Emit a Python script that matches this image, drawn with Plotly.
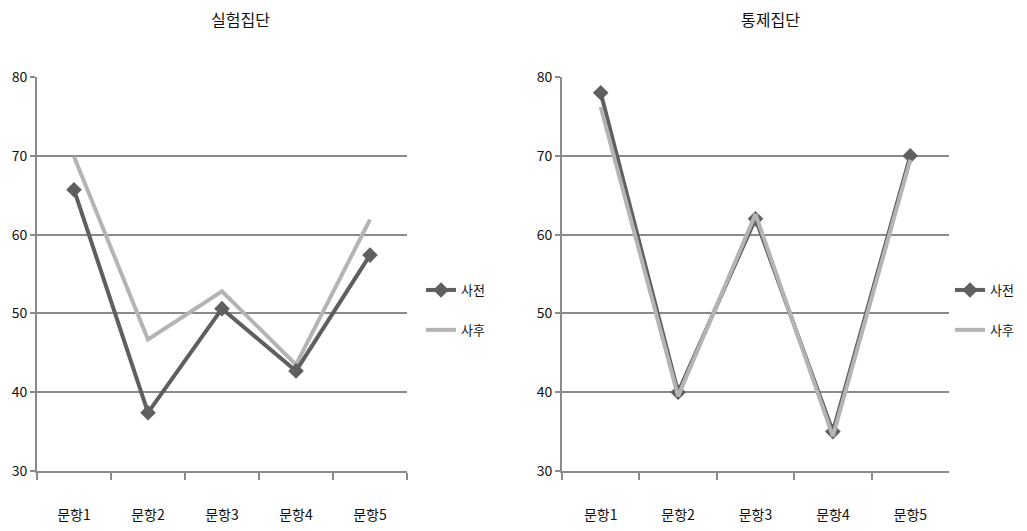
import plotly.graph_objects as go

categories = ["문항1", "문항2", "문항3", "문항4", "문항5"]
exp_pre = [65.7, 37.4, 50.6, 42.7, 57.4]
exp_post = [69.9, 46.7, 52.8, 43.5, 61.9]
ctl_pre = [78.0, 40.0, 62.0, 35.0, 70.0]
ctl_post = [76.2, 39.5, 62.6, 34.4, 69.5]
series_names = ["사전", "사후"]
titles = ["실험집단", "통제집단"]

DARK = "#5f5f5f"
LIGHT = "#b4b4b4"
GRID = "#8a8a8a"
FONT = "Noto Sans CJK KR"

# page has an 8px body margin; figure is sized to the visible window
OFF = 8
W, H = 1027 - OFF, 531 - OFF


def px(x):
    return (x - OFF) / W


def py(y):
    return (H - (y - OFF)) / H


fig = go.Figure()

fig.add_trace(go.Scatter(x=categories, y=exp_post, name=series_names[1], mode="lines",
                         line=dict(color=LIGHT, width=4), xaxis="x", yaxis="y",
                         legend="legend", legendgroup="lb", legendrank=2))
fig.add_trace(go.Scatter(x=categories, y=exp_pre, name=series_names[0], mode="lines+markers",
                         line=dict(color=DARK, width=4), marker=dict(symbol="diamond", size=12, color=DARK),
                         xaxis="x", yaxis="y", legend="legend", legendgroup="la", legendrank=1))
fig.add_trace(go.Scatter(x=categories, y=ctl_pre, name=series_names[0], mode="lines+markers",
                         line=dict(color=DARK, width=4), marker=dict(symbol="diamond", size=12, color=DARK),
                         xaxis="x2", yaxis="y2", legend="legend2", legendgroup="ra", legendrank=1))
fig.add_trace(go.Scatter(x=categories, y=ctl_post, name=series_names[1], mode="lines",
                         line=dict(color=LIGHT, width=4), xaxis="x2", yaxis="y2",
                         legend="legend2", legendgroup="rb", legendrank=2))

ydom = [py(471), py(77)]

xcommon = dict(type="category", showgrid=False, showline=True, linecolor=GRID, linewidth=2,
               ticks="outside", tickson="boundaries", ticklen=7, tickcolor=GRID, tickwidth=2,
               ticklabelstandoff=30, tickfont=dict(family=FONT, size=14, color="#111"),
               range=[-0.5, 4.5], fixedrange=True, automargin=False)
ycommon = dict(range=[30, 80], dtick=10, showgrid=True, gridcolor=GRID, gridwidth=2,
               showline=True, linecolor=GRID, linewidth=2, zeroline=False,
               ticks="outside", ticklen=5, tickcolor=GRID, tickwidth=2, automargin=False,
               tickfont=dict(family=FONT, size=14, color="#111"))

legcommon = dict(font=dict(family=FONT, size=13, color="#111"), bgcolor="rgba(0,0,0,0)",
                 tracegroupgap=20, itemwidth=30, xanchor="left", yanchor="middle",
                 traceorder="grouped")

fig.update_layout(
    width=W, height=H, margin=dict(l=0, r=0, t=0, b=0, autoexpand=False),
    paper_bgcolor="white", plot_bgcolor="white",
    xaxis=dict(domain=[px(37), px(407)], anchor="y", **xcommon),
    yaxis=dict(domain=ydom, anchor="x", **ycommon),
    xaxis2=dict(domain=[px(562), px(949)], anchor="y2", **xcommon),
    yaxis2=dict(domain=ydom, anchor="x2", **ycommon),
    legend=dict(x=px(421), y=py(310), **legcommon),
    legend2=dict(x=px(950), y=py(310), **legcommon),
    annotations=[
        dict(text=titles[0], x=px(240), y=py(19), xref="paper", yref="paper",
             xanchor="center", yanchor="middle",
             showarrow=False, font=dict(family=FONT, size=16, color="#111")),
        dict(text=titles[1], x=px(770), y=py(19), xref="paper", yref="paper",
             xanchor="center", yanchor="middle",
             showarrow=False, font=dict(family=FONT, size=16, color="#111")),
    ],
)

fig.write_html("out.html")
